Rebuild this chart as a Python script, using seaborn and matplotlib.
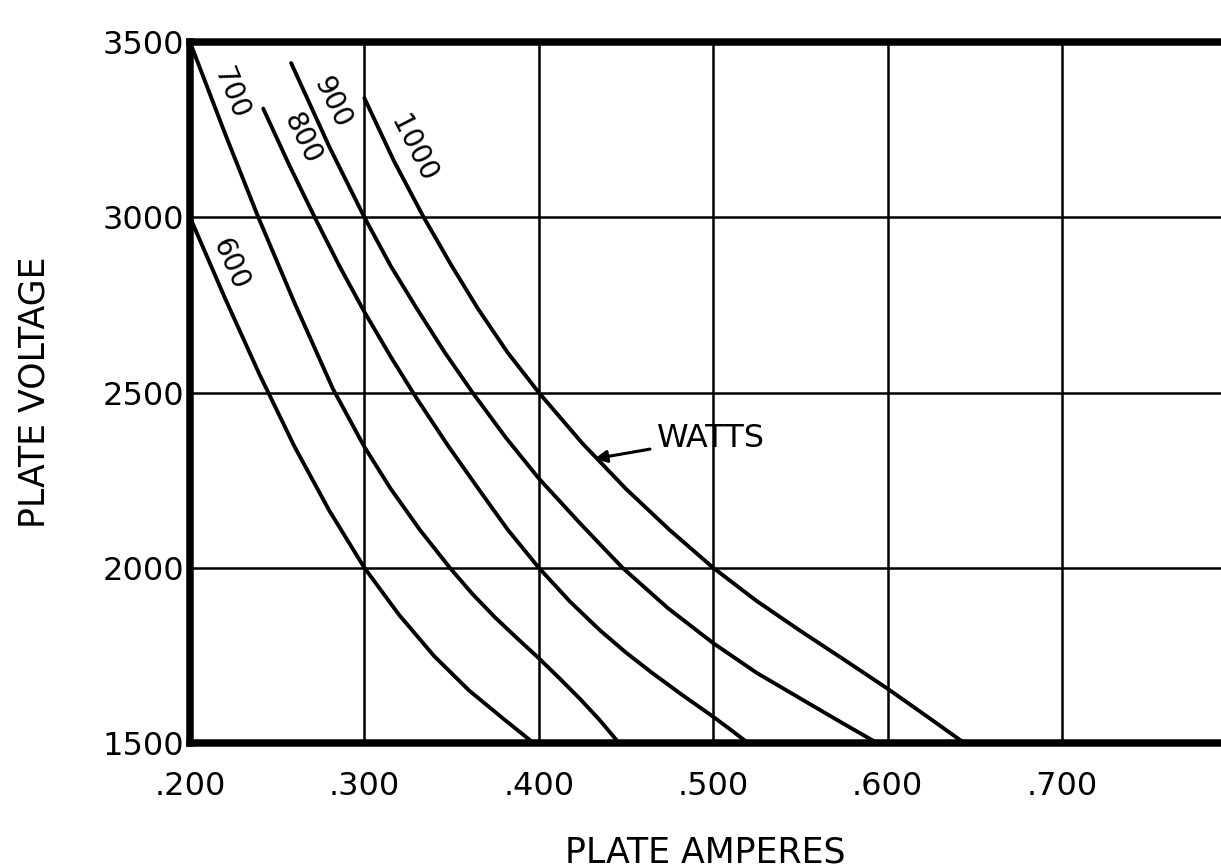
import matplotlib
matplotlib.use('Agg')
import seaborn as sns
import pandas as pd
import matplotlib.pyplot as plt

# curve points (plate amperes, plate volts)
amps600 = [0.200, 0.220, 0.240, 0.260, 0.280, 0.300, 0.320, 0.340, 0.360, 0.380, 0.397]
volts600 = [3000, 2770, 2550, 2345, 2162, 2000, 1865, 1748, 1650, 1568, 1500]

amps700 = [0.200, 0.220, 0.239, 0.260, 0.282, 0.300, 0.315, 0.332, 0.349, 0.362, 0.375,
           0.388, 0.400, 0.412, 0.424, 0.435, 0.446]
volts700 = [3500, 3240, 3002, 2755, 2510, 2345, 2226, 2107, 2000, 1925, 1858,
            1797, 1742, 1684, 1624, 1565, 1500]

amps800 = [0.242, 0.257, 0.272, 0.286, 0.300, 0.315, 0.330, 0.348, 0.365, 0.382, 0.400,
           0.418, 0.435, 0.450, 0.465, 0.482, 0.500, 0.510, 0.520]
volts800 = [3310, 3148, 2995, 2858, 2730, 2603, 2483, 2348, 2228, 2110, 2000,
            1903, 1822, 1758, 1700, 1638, 1575, 1538, 1500]

amps900 = [0.258, 0.280, 0.300, 0.315, 0.330, 0.346, 0.362, 0.381, 0.400, 0.424, 0.448,
           0.474, 0.500, 0.525, 0.550, 0.572, 0.594]
volts900 = [3440, 3200, 3000, 2862, 2740, 2615, 2500, 2372, 2255, 2125, 2000,
            1885, 1785, 1700, 1627, 1563, 1500]

amps1000 = [0.300, 0.317, 0.334, 0.350, 0.365, 0.382, 0.400, 0.425, 0.450, 0.475, 0.500,
            0.525, 0.550, 0.575, 0.600, 0.622, 0.644]
volts1000 = [3340, 3160, 3000, 2862, 2740, 2615, 2500, 2355, 2225, 2108, 2000,
             1905, 1820, 1738, 1655, 1578, 1500]

# curve labels: text, position, angle
curveLabels = ['600', '700', '800', '900', '1000']
labelAmps = [0.2233, 0.2233, 0.2640, 0.2814, 0.3279]
labelVolts = [2866, 3354, 3226, 3329, 3194]
labelAngles = [-66, -68, -64, -64, -63]

xTicks = [0.2, 0.3, 0.4, 0.5, 0.6, 0.7]
xTickLabels = ['.200', '.300', '.400', '.500', '.600', '.700']
yTicks = [1500, 2000, 2500, 3000, 3500]
yTickLabels = ['1500', '2000', '2500', '3000', '3500']


def main():
    # build one long table
    frames = []
    for watts, a, v in [(600, amps600, volts600), (700, amps700, volts700),
                        (800, amps800, volts800), (900, amps900, volts900),
                        (1000, amps1000, volts1000)]:
        frames.append(pd.DataFrame({'amps': a, 'volts': v, 'watts': watts}))
    df = pd.concat(frames, ignore_index=True)

    sns.set_style('white')
    plt.rcParams['font.family'] = ['DejaVu Sans']
    plt.rcParams['text.color'] = 'black'
    plt.rcParams['axes.labelcolor'] = 'black'
    plt.rcParams['xtick.color'] = 'black'
    plt.rcParams['ytick.color'] = 'black'

    fig = plt.figure(figsize=(12.21, 8.68), dpi=100)
    ax = fig.add_axes([0.1556, 0.144, 0.8444, 0.8076])

    # grid
    for x in xTicks:
        ax.axvline(x, color='black', lw=1.8, zorder=1)
    for y in yTicks:
        ax.axhline(y, color='black', lw=1.8, zorder=1)

    sns.lineplot(data=df, x='amps', y='volts', units='watts', estimator=None,
                 color='black', lw=2.8, ax=ax, zorder=3)

    for txt, xa, yv, ang in zip(curveLabels, labelAmps, labelVolts, labelAngles):
        ax.text(xa, yv, txt, rotation=ang, rotation_mode='anchor',
                ha='center', va='center', fontsize=20, zorder=4)

    ax.annotate('WATTS', xy=(0.432, 2311), xytext=(0.468, 2369),
                fontsize=23, ha='left', va='center',
                arrowprops=dict(arrowstyle='-|>', color='black', lw=2.2,
                                mutation_scale=18, shrinkA=3, shrinkB=0))

    ax.set_xlim(0.2, 0.7912)
    ax.set_ylim(1500, 3500)
    ax.set_xticks(xTicks)
    ax.set_xticklabels(xTickLabels)
    ax.set_yticks(yTicks)
    ax.set_yticklabels(yTickLabels)
    ax.tick_params(axis='both', length=0, labelsize=23)
    ax.tick_params(axis='x', pad=20)
    ax.tick_params(axis='y', pad=4)

    ax.set_xlabel('PLATE AMPERES', fontsize=25)
    ax.set_ylabel('PLATE VOLTAGE', fontsize=25)
    ax.xaxis.set_label_coords(0.5, -0.132)
    ax.yaxis.set_label_coords(-0.134, 0.5)

    # spines: heavy frame, right side cut off
    for side in ['left', 'top', 'bottom']:
        ax.spines[side].set_visible(True)
        ax.spines[side].set_color('black')
        ax.spines[side].set_linewidth(5.4)
    ax.spines['right'].set_visible(False)

    fig.savefig('out.png', dpi=100, facecolor='white')


main()
